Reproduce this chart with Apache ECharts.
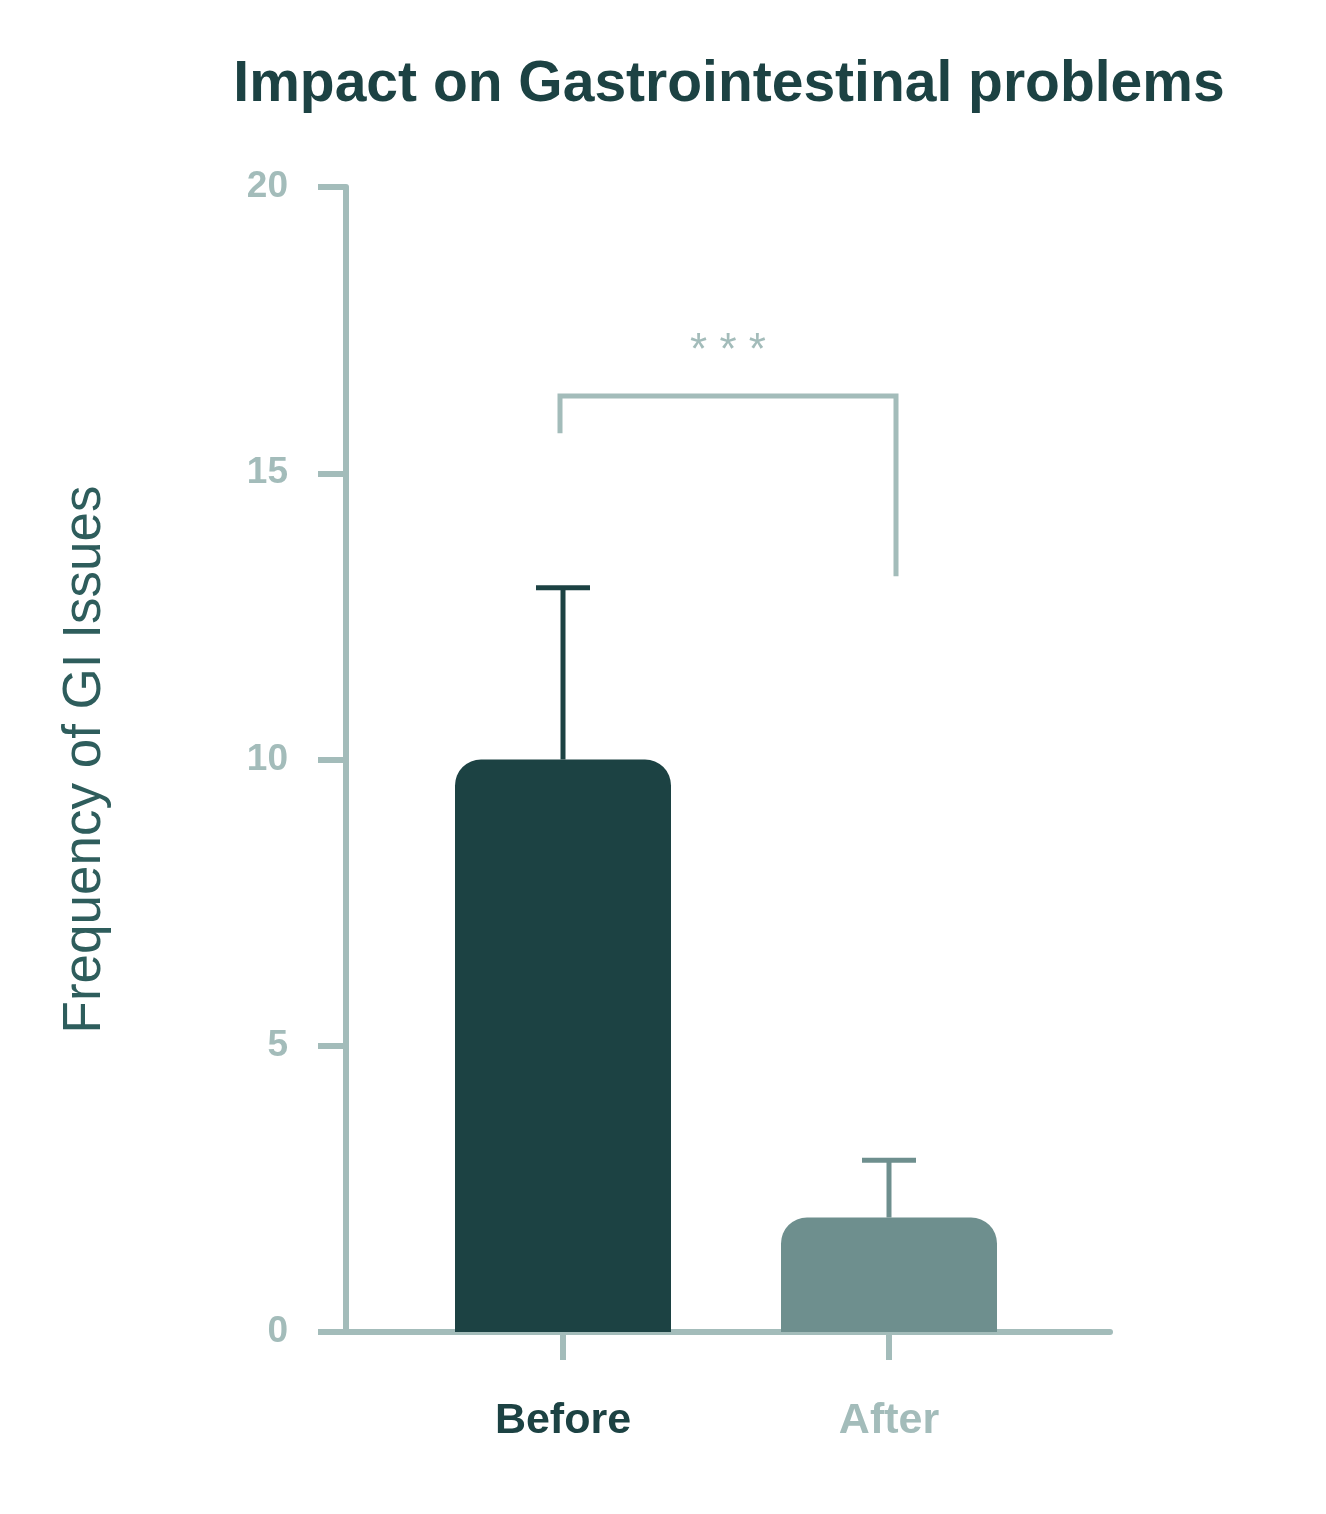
<!DOCTYPE html>
<html><head><meta charset="utf-8">
<script src="https://cdn.jsdelivr.net/npm/echarts@6/dist/echarts.min.js"></script>
<style>html,body{margin:0;padding:0;background:#fff}#c{width:1326px;height:1514px}</style>
</head><body><div id="c"></div>
<script>
const categories = ['Before', 'After'];
const means = [10, 2];
const errUpper = [13, 3];
const bracketData = [[15.7, 16.35, 13.2]];
const yTicks = [0, 5, 10, 15, 20];

const light = '#a3bcba', dark = '#1c4243', mid = '#6e8f8e';
const chart = echarts.init(document.getElementById('c'));
chart.setOption({
  animation: false,
  title: {text: 'Impact on Gastrointestinal problems', left: 724, top: 52, textAlign: 'center',
    textStyle: {fontFamily: 'Liberation Sans', fontWeight: 'bold', fontSize: 57, color: dark}},
  grid: [
    {left: 346, right: 216, top: 187, bottom: 182},
    {left: 400, right: 274, top: 187, bottom: 182}
  ],
  xAxis: [
    {gridIndex: 0, type: 'value', min: 0, max: 1, axisLine: {show: true, onZero: false, lineStyle: {color: light, width: 6}},
     axisTick: {show: false}, axisLabel: {show: false}, splitLine: {show: false}},
    {gridIndex: 1, type: 'category', data: categories, axisLine: {show: false},
     axisTick: {show: true, alignWithLabel: true, length: 28, lineStyle: {color: light, width: 6}},
     axisLabel: {margin: 68,
       formatter: v => v === 'Before' ? '{a|' + v + '}' : '{b|' + v + '}',
       rich: {a: {color: dark, fontFamily: 'Liberation Sans', fontWeight: 'bold', fontSize: 43},
              b: {color: light, fontFamily: 'Liberation Sans', fontWeight: 'bold', fontSize: 43}}}}
  ],
  yAxis: [
    {gridIndex: 0, type: 'value', min: 0, max: 20, interval: 5,
     name: 'Frequency of GI Issues', nameLocation: 'middle', nameGap: 234, nameRotate: 90,
     nameTextStyle: {fontFamily: 'Liberation Sans', fontSize: 53, color: '#2e5d5c'},
     axisLine: {show: true, lineStyle: {color: light, width: 6}},
     axisTick: {show: true, length: 28, lineStyle: {color: light, width: 6}},
     axisLabel: {margin: 58, fontFamily: 'Liberation Sans', fontWeight: 'bold', fontSize: 37, color: light,
       formatter: v => yTicks.includes(v) ? String(v) : ''},
     splitLine: {show: false}},
    {gridIndex: 1, type: 'value', min: 0, max: 20, show: false}
  ],
  series: [
    {type: 'bar', xAxisIndex: 1, yAxisIndex: 1, barWidth: 216, z: 2,
     data: means.map((v, i) => ({value: v, itemStyle: {color: i === 0 ? dark : mid, borderRadius: [26, 26, 0, 0]}}))},
    {type: 'custom', xAxisIndex: 1, yAxisIndex: 1, z: 1,
     data: means.map((m, i) => [i, m, errUpper[i]]),
     renderItem: (params, api) => {
       const lo = api.coord([api.value(0), api.value(1)]);
       const hi = api.coord([api.value(0), api.value(2)]);
       const c = params.dataIndex === 0 ? dark : mid;
       const st = {stroke: c, lineWidth: 5};
       return {type: 'group', children: [
         {type: 'line', shape: {x1: lo[0], y1: lo[1], x2: hi[0], y2: hi[1]}, style: st},
         {type: 'line', shape: {x1: hi[0] - 27, y1: hi[1], x2: hi[0] + 27, y2: hi[1]}, style: st}
       ]};
     }},
    {type: 'custom', xAxisIndex: 1, yAxisIndex: 1, z: 3,
     data: bracketData,
     renderItem: (params, api) => {
       const a = api.coord([0, api.value(0)]);
       const t = api.coord([0, api.value(1)]);
       const b = api.coord([1, api.value(2)]);
       const xl = a[0] - 3, xr = b[0] + 7;
       return {type: 'group', children: [
         {type: 'polyline', shape: {points: [[xl, a[1]], [xl, t[1]], [xr, t[1]], [xr, b[1]]]},
          style: {stroke: light, lineWidth: 5, fill: null}},
         {type: 'text', style: {text: '* * *', x: (xl + xr) / 2, y: t[1] - 44, textAlign: 'center', textVerticalAlign: 'middle',
          font: '44px Liberation Sans', fill: light}}
       ]};
     }}
  ]
});
</script></body></html>
